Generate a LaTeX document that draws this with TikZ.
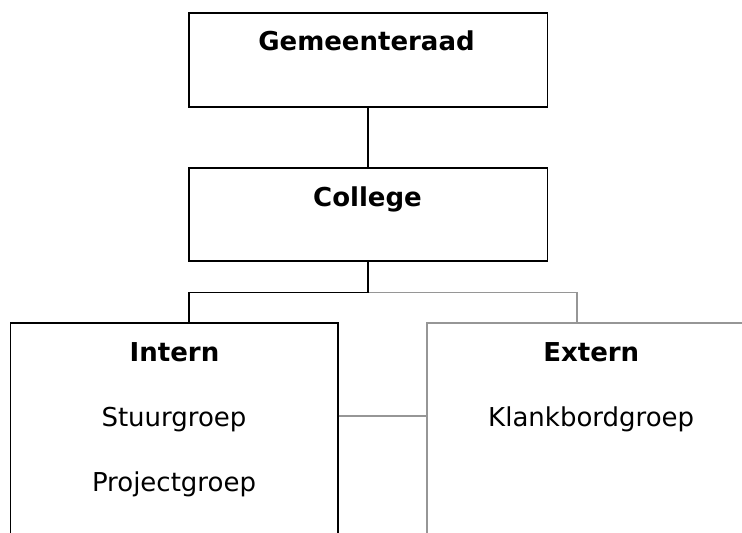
\documentclass[tikz,border=0pt]{standalone}
\usepackage{fontspec}
\setmainfont{DejaVu Sans}
\definecolor{linegray}{RGB}{150,150,150}
\tikzset{
  blk/.style={draw=black, line width=1.5pt},
  gry/.style={draw=linegray, line width=1.3pt},
  boxb/.style={blk, rectangle, inner sep=0pt, fill=none},
  boxg/.style={gry, rectangle, inner sep=0pt, fill=none},
  head/.style={font=\fontsize{26}{31}\selectfont\bfseries, anchor=base, inner sep=0pt},
  item/.style={font=\fontsize{26}{31}\selectfont, anchor=base, inner sep=0pt}
}
\begin{document}
\begin{tikzpicture}[x=1pt, y=-1pt]
\useasboundingbox (0,0) rectangle (742,533);
\clip (0,0) rectangle (742,533);
% boxes
\node[boxb, minimum width=358.5pt, minimum height=94pt] (gem) at (368,60) {};
\node[boxb, minimum width=358.5pt, minimum height=93pt] (coll) at (368,214.5) {};
\node[boxb, minimum width=327.3pt, minimum height=222pt] (intern) at (174.3,434) {};
\node[boxg, minimum width=328pt, minimum height=222pt] (extern) at (591,434) {};
% texts
\node[head] (tgem) at (366.5,50.5) {Gemeenteraad};
\node[head] (tcoll) at (367.5,206) {College};
\node[head] (tint) at (174.5,361.7) {Intern};
\node[item] (tstuur) at (174,426.7) {Stuurgroep};
\node[item] (tproj) at (174,491.7) {Projectgroep};
\node[head] (text) at (591.3,361.7) {Extern};
\node[item] (tklank) at (591.2,426) {Klankbordgroep};
% helper coordinates
\coordinate (bus) at (368,292.7);
\coordinate (ltap) at (189,0);
\coordinate (rtap) at (577,0);
\coordinate (mid) at (0,416);
% connectors
\draw[gry] (bus) -| (extern.north -| rtap);
\draw[gry] (intern.east |- mid) -- (extern.west |- mid);
\draw[blk] (gem.south) -- (coll.north);
\draw[blk] (coll.south) -- (bus) -| (intern.north -| ltap);
\end{tikzpicture}
\end{document}
